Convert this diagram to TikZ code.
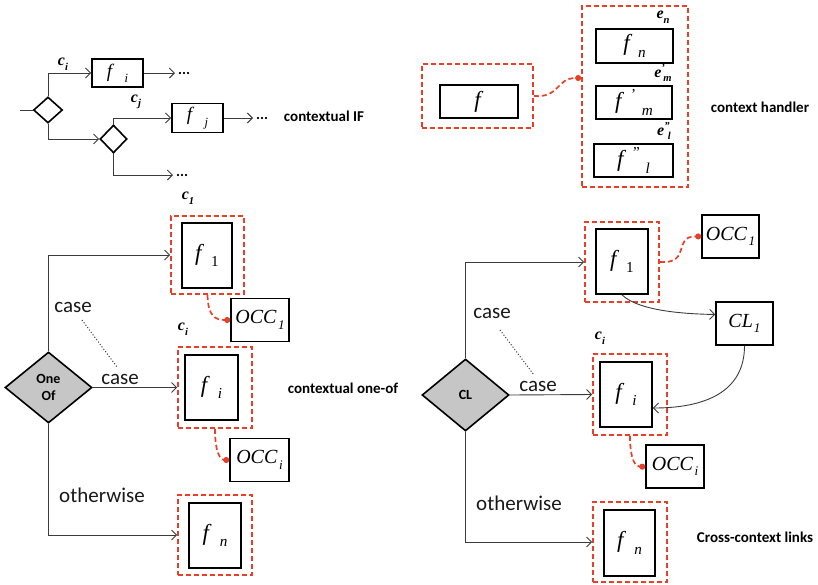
\documentclass[tikz,border=0pt]{standalone}
\usepackage{fontspec}
\usepackage{graphicx}
\setmainfont{Liberation Serif}
\newfontfamily\labsans{Carlito}
\usetikzlibrary{shapes.geometric,arrows.meta}

\definecolor{ctxred}{RGB}{232,64,40}
\definecolor{flowgray}{RGB}{60,60,60}

% raised / lowered small indices
\newcommand{\lo}[1]{\raisebox{-0.28em}{\scalebox{0.66}{#1}}}
\newcommand{\hi}[1]{\raisebox{0.38em}{\scalebox{0.66}{#1}}}

\tikzset{
  fbox/.style={draw=black, line width=1.8pt, inner sep=0pt, font=\fontsize{23}{23}\selectfont},
  ctxbox/.style={draw=ctxred, line width=1.7pt, dash pattern=on 5pt off 3pt, inner sep=0pt},
  occbox/.style={draw, line width=1.6pt, inner sep=0pt, minimum width=58pt, minimum height=43pt,
    font=\itshape\fontsize{20}{20}\selectfont},
  decision/.style={diamond, draw, line width=1.6pt, fill=gray!45, inner sep=0pt, align=center,
    font=\labsans\bfseries\fontsize{14}{17}\selectfont},
  smalldec/.style={diamond, draw, line width=1.6pt, inner sep=0pt},
  flow/.style={draw=flowgray, line width=0.9pt},
  arr/.style={flow, -{Straight Barb[length=5pt,width=10pt]}},
  redlink/.style={draw=ctxred, line width=1.7pt, dash pattern=on 5pt off 3pt,
    -{Circle[length=6pt,fill=ctxred]}},
  caselab/.style={font=\labsans\fontsize{21}{21}\selectfont, text=black!90, inner sep=0pt},
  title/.style={font=\labsans\bfseries\fontsize{15}{15}\selectfont, inner sep=0pt},
  cond/.style={font=\bfseries\itshape\fontsize{16}{16}\selectfont, inner sep=0pt},
  dots/.style={font=\labsans\bfseries\fontsize{15}{15}\selectfont, inner sep=0pt, anchor=west, xshift=3pt},
  caselink/.style={draw=black!80, line width=1pt, dotted},
}

\begin{document}
\begin{tikzpicture}[x=1pt, y=-1pt]
\useasboundingbox (0,0) rectangle (818,584);

% ---------------- contextual IF ----------------
\coordinate (ifin) at (20,110);
\node[smalldec, minimum width=29pt, minimum height=26pt] (if1) at (48,110) {};
\node[smalldec, minimum width=27pt, minimum height=28pt] (if2) at (113.5,139) {};
\node[fbox, minimum width=51pt, minimum height=28pt, font=\fontsize{19}{19}\selectfont]
  (ifa) at (117.5,73) {\textit{f}\hspace{0.55em}\lo{\textit{i}}};
\node[fbox, minimum width=51pt, minimum height=29pt, font=\fontsize{19}{19}\selectfont]
  (ifb) at (197.5,118) {\textit{f}\hspace{0.55em}\lo{\textit{j}}};
\node[cond] (cia) at (63,64) {c\lo{i}};
\node[cond] (cjb) at (136,102) {c\lo{j}};

\coordinate (ifaend) at (175,73);
\coordinate (ifbend) at (253,118);
\coordinate (ifcend) at (173,175);

\draw[flow] (ifin) -- (if1.west);
\draw[arr] (if1.north) |- (ifa.west);
\draw[arr] (if1.south) |- (if2.west);
\draw[arr] (if2.north) |- (ifb.west);
\draw[arr] (if2.south) |- (ifcend);
\draw[arr] (ifa.east) -- (ifaend);
\draw[arr] (ifb.east) -- (ifbend);
\node[dots] (dotsa) at (ifaend) {...};
\node[dots] (dotsb) at (ifbend) {...};
\node[dots] (dotsc) at (ifcend) {...};
\node[title] (tif) at (324,116) {contextual IF};

% ---------------- context handler ----------------
\node[ctxbox, minimum width=111pt, minimum height=64pt] (hsrc) at (477.5,96) {};
\node[fbox, minimum width=78pt, minimum height=33pt] (hf) at (479,101.5) {\textit{f}};
\node[ctxbox, minimum width=106pt, minimum height=181pt] (hset) at (635,96.5) {};
\node[fbox, minimum width=77pt, minimum height=34pt] (hfn) at (634.5,46)
  {\textit{f}\hspace{0.25em}\lo{\textit{n}}};
\node[fbox, minimum width=76pt, minimum height=33pt] (hfm) at (634,102.5)
  {\textit{f}\hspace{0.3em}\hi{'}\hspace{0.25em}\lo{\textit{m}}};
\node[fbox, minimum width=79pt, minimum height=33pt] (hfl) at (633.5,160.5)
  {\textit{f}\hspace{0.3em}\hi{''}\hspace{0.25em}\lo{\textit{l}}};
\node[cond] (hen) at (663,17) {e\lo{n}};
\node[cond] (hem) at (663,73) {e\hi{'}\kern-0.1em\lo{m}};
\node[cond] (hel) at (664,131) {e\hi{''}\kern-0.1em\lo{l}};
\coordinate (hin) at ([yshift=18.5pt]hset.west);
\draw[redlink] (hsrc.east) .. controls (560,98) and (556,78) .. (hin);
\node[title] (tch) at (760,107) {context handler};

% ---------------- contextual one-of ----------------
\node[decision, minimum width=87pt, minimum height=71pt] (oo) at (48.5,387.5) {One\\Of};
\node[ctxbox, minimum width=73pt, minimum height=78pt] (oc1) at (207.5,255) {};
\node[fbox, minimum width=50pt, minimum height=65pt] (of1) at (207,255.5)
  {\textit{f}\hspace{0.3em}\lo{1}};
\node[cond] (olc1) at (188,198) {c\lo{1}};
\node[occbox] (oocc1) at (260,320) {OCC\kern0.08em\lo{1}};
\node[ctxbox, minimum width=74pt, minimum height=81pt] (oci) at (215,387.5) {};
\node[fbox, minimum width=53pt, minimum height=65pt] (ofi) at (211.5,387.5)
  {\textit{f}\hspace{0.35em}\lo{\textit{i}}};
\node[cond] (olci) at (183,329) {c\lo{i}};
\node[occbox, minimum width=59pt] (ooccie) at (259.5,460) {OCC\kern0.08em\lo{\textit{i}}};
\node[ctxbox, minimum width=74pt, minimum height=80pt] (ocn) at (215,535) {};
\node[fbox, minimum width=52pt, minimum height=65pt] (ofn) at (215,535.5)
  {\textit{f}\hspace{0.35em}\lo{\textit{n}}};

\draw[arr] (oo.north) |- (oc1.west);
\draw[arr] (oo.east) -- (oci.west);
\draw[arr] (oo.south) |- (ocn.west);
\draw[redlink] (oc1.south) .. controls (208,316) and (215,320) .. (oocc1.west);
\draw[redlink] (oci.south) .. controls (215,454) and (221,460) .. (ooccie.west);

\node[caselab] (ocasea) at (73,307) {case};
\node[caselab] (ocaseb) at (120,379) {case};
\node[caselab] (oother) at (102,495) {otherwise};
\coordinate (odota) at (82,320);
\coordinate (odotb) at (117,367);
\draw[caselink] (odota) -- (odotb);
\node[title] (too) at (343,388) {contextual one-of};

% ---------------- cross-context links ----------------
\node[decision, minimum width=87pt, minimum height=72pt] (cl) at (465.5,395) {CL};
\node[ctxbox, minimum width=74pt, minimum height=80pt] (rc1) at (622,262) {};
\node[fbox, minimum width=52pt, minimum height=65pt] (rf1) at (622,261.5)
  {\textit{f}\hspace{0.3em}\lo{1}};
\node[occbox, minimum width=57pt] (rocc1) at (730.5,236.5) {OCC\kern0.08em\lo{1}};
\node[occbox, minimum width=57pt] (rcl1) at (744.5,323.5) {CL\kern0.05em\lo{1}};
\node[ctxbox, minimum width=74pt, minimum height=81pt] (rci) at (630,394.5) {};
\node[fbox, minimum width=52pt, minimum height=65pt] (rfi) at (626,394.5)
  {\textit{f}\hspace{0.35em}\lo{\textit{i}}};
\node[cond] (rlci) at (600,338) {c\lo{i}};
\node[occbox] (roccie) at (675,466.5) {OCC\kern0.08em\lo{\textit{i}}};
\node[ctxbox, minimum width=74pt, minimum height=80pt] (rcn) at (630,542) {};
\node[fbox, minimum width=51pt, minimum height=66pt] (rfn) at (629.5,543)
  {\textit{f}\hspace{0.35em}\lo{\textit{n}}};

\draw[arr] (cl.north) |- (rc1.west);
\draw[arr] (cl.east) -- (rci.west);
\draw[arr] (cl.south) |- (rcn.west);
\draw[redlink] (rc1.east) .. controls (692,264) and (672,236) .. (rocc1.west);
\draw[redlink] (rci.south) .. controls (630,461) and (636,467) .. (roccie.west);
\draw[arr] (rf1.south) .. controls (640,312) and (690,314) .. ([yshift=9pt]rcl1.west);
\draw[arr] (rcl1.south) .. controls (744.5,392) and (705,408) .. ([yshift=-13.5pt]rfi.east);

\node[caselab] (rcasea) at (492,313) {case};
\node[caselab] (rcaseb) at (538,386) {case};
\node[caselab] (rother) at (519,503) {otherwise};
\coordinate (rdota) at (500,330);
\coordinate (rdotb) at (534,375);
\draw[caselink] (rdota) -- (rdotb);
\node[title] (tcc) at (755,537) {Cross-context links};
\end{tikzpicture}
\end{document}
